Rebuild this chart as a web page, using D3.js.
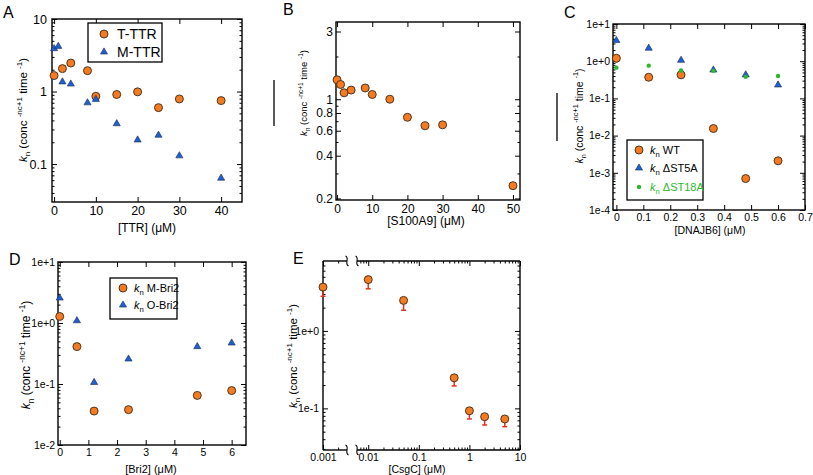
<!DOCTYPE html>
<html><head><meta charset="utf-8">
<script src="https://cdn.jsdelivr.net/npm/d3@7"></script>
<style>body{margin:0;background:#fff}svg{display:block}text{font-family:"Liberation Sans",Arial,sans-serif}</style>
</head><body><svg id="c" width="813" height="475"></svg>
<script>
// ---------- DATA ----------
// Panel A
const aTTTRx=[0,2,4,8,10,15,20,25,30,40];
const aTTTRy=[1.66,2.07,2.47,1.94,0.86,0.91,0.99,0.60,0.79,0.75];
const aMTTRx=[0,1,2,4,8,10,15,20,25,30,40];
const aMTTRy=[3.9,4.2,1.36,1.27,0.70,0.78,0.36,0.215,0.25,0.13,0.064];
const aXTicks=[0,10,20,30,40];
const aXLabels=["0","10","20","30","40"];
const aYTicks=[0.1,1,10];
const aYLabels=["0.1","1","10"];
// Panel B
const bX=[0,1,2,4,8,10,15,20,25,30,50];
const bY=[1.37,1.27,1.11,1.16,1.20,1.08,1.0,0.746,0.65,0.66,0.246];
const bXTicks=[0,10,20,30,40,50];
const bXLabels=["0","10","20","30","40","50"];
const bYTicks=[0.2,0.4,0.6,0.8,1,3];
const bYLabels=["0.2","0.4","0.6","0.8","1","3"];
// Panel C
const cX=[0,0.12,0.24,0.36,0.48,0.6];
const cWT=[1.2,0.37,0.43,0.0155,0.0007,0.0021];
const cST5A=[3.6,2.24,1.06,0.58,0.43,0.23];
const cST18A=[0.67,0.76,0.56,0.55,0.38,0.40];
const cXTicks=[0,0.1,0.2,0.3,0.4,0.5,0.6,0.7];
const cXLabels=["0","0.1","0.2","0.3","0.4","0.5","0.6","0.7"];
const cYTicks=[1e-4,1e-3,1e-2,1e-1,1e0,1e1];
const cYLabels=["1e-4","1e-3","1e-2","1e-1","1e+0","1e+1"];
// Panel D
const dX=[0,0.6,1.2,2.4,4.8,6];
const dMBri2=[1.28,0.41,0.036,0.038,0.065,0.078];
const dOBri2=[2.57,1.09,0.106,0.257,0.41,0.47];
const dXTicks=[0,1,2,3,4,5,6];
const dXLabels=["0","1","2","3","4","5","6"];
const dYTicks=[1e-2,1e-1,1e0,1e1];
const dYLabels=["1e-2","1e-1","1e+0","1e+1"];
// Panel E
const eX=[0.001,0.01,0.05,0.5,1,2,5];
const eY=[3.68,4.6,2.48,0.248,0.093,0.078,0.073];
const eLow=[2.8,3.5,1.85,0.195,0.073,0.061,0.058];
const eXTicks=[0.001,0.01,0.1,1,10];
const eXLabels=["0.001","0.01","0.1","1","10"];
const eYTicks=[0.1,1];
const eYLabels=["1e-1","1e+0"];

// ---------- STYLE ----------
const ORANGE="#f47b20", BLUE="#1f5fd6", GREEN="#2db82d", RED="#e2331f";
const TRI=22;
const svg=d3.select("#c");

function logMinors(dom, exclude){
  const out=[];const a=Math.min(...dom),b=Math.max(...dom);
  for(let e=Math.floor(Math.log10(a));e<=Math.ceil(Math.log10(b));e++)
    for(let k=2;k<=9;k++){const v=+(k*Math.pow(10,e)).toPrecision(6);
      if(v>a*1.0001&&v<b*0.9999&&!(exclude||[]).some(t=>Math.abs(t-v)/v<1e-6))out.push(v);}
  return out;
}
function ax(g,gen,tr,vals,size,fmt,pad,fs){
  const a=g.append("g").attr("transform",tr)
    .call(gen.tickValues(vals).tickSize(size).tickPadding(pad).tickFormat(fmt));
  a.select(".domain").remove();
  a.attr("font-family",null).attr("font-size",fs);
  a.selectAll("line").attr("stroke","#000").attr("stroke-width",1);
  a.selectAll("text").attr("fill","#000");
  return a;
}
function box(g,x,y,o){
  const [x0,x1]=x.range(), y1=y.range()[0], y0=y.range()[1];
  ax(g,d3.axisBottom(x),`translate(0,${y1})`,o.xt,-5,(d,i)=>o.xl[i],o.xpad,o.fs);
  ax(g,d3.axisTop(x),`translate(0,${y0})`,o.xt,-5,()=>"",0,o.fs);
  ax(g,d3.axisLeft(y),`translate(${x0},0)`,o.yt,-5,(d,i)=>o.yl[i],o.ypad,o.fs);
  ax(g,d3.axisRight(y),`translate(${x1},0)`,o.yt,-5,()=>"",0,o.fs);
  if(o.ym){
    ax(g,d3.axisLeft(y),`translate(${x0},0)`,o.ym,-2.5,()=>"",0,o.fs);
    ax(g,d3.axisRight(y),`translate(${x1},0)`,o.ym,-2.5,()=>"",0,o.fs);
  }
  g.append("rect").attr("x",x0).attr("y",y0).attr("width",x1-x0).attr("height",y1-y0)
    .attr("fill","none").attr("stroke","#000").attr("stroke-width",1.4);
}
function ylab(g,x,yc,fs){
  const t=g.append("text").attr("transform",`translate(${x},${yc}) rotate(-90)`)
    .attr("text-anchor","middle").attr("font-size",fs).attr("fill","#000");
  t.append("tspan").attr("font-style","italic").text("k");
  t.append("tspan").attr("font-size",fs*0.7).attr("dy",fs*0.3).text("n");
  t.append("tspan").attr("dy",-fs*0.3).text(" (conc ");
  t.append("tspan").attr("font-size",fs*0.7).attr("dy",-fs*0.45).text("-nc+1");
  t.append("tspan").attr("dy",fs*0.45).text(" time ");
  t.append("tspan").attr("font-size",fs*0.7).attr("dy",-fs*0.45).text("-1");
  t.append("tspan").attr("dy",fs*0.45).text(")");
}
function xlab(g,x,y,fs,s){g.append("text").attr("x",x).attr("y",y).attr("text-anchor","middle").attr("font-size",fs).text(s);}
function title(s,x,y){svg.append("text").attr("x",x).attr("y",y).attr("font-size",16).text(s);}
function circles(g,xs,ys,x,y,r){
  g.selectAll(null).data(xs).enter().append("circle")
    .attr("cx",(d)=>x(d)).attr("cy",(d,i)=>y(ys[i])).attr("r",r||4)
    .attr("fill",ORANGE).attr("stroke","#3b2a1c").attr("stroke-width",0.9);
}
function tris(g,xs,ys,x,y){
  g.selectAll(null).data(xs).enter().append("path")
    .attr("d",d3.symbol(d3.symbolTriangle,TRI)())
    .attr("transform",(d,i)=>`translate(${x(d)},${y(ys[i])})`)
    .attr("fill",BLUE).attr("stroke","#1a2a4a").attr("stroke-width",0.6);
}
function dots(g,xs,ys,x,y){
  g.selectAll(null).data(xs).enter().append("circle")
    .attr("cx",(d)=>x(d)).attr("cy",(d,i)=>y(ys[i])).attr("r",2.2).attr("fill",GREEN);
}
function legBox(g,x0,y0,x1,y1){g.append("rect").attr("x",x0).attr("y",y0).attr("width",x1-x0).attr("height",y1-y0).attr("fill","#fff").attr("stroke","#000").attr("stroke-width",1.3);}
function legMarker(g,type,x,y){
  if(type==="c")g.append("circle").attr("cx",x).attr("cy",y).attr("r",4).attr("fill",ORANGE).attr("stroke","#3b2a1c").attr("stroke-width",0.9);
  else if(type==="t")g.append("path").attr("d",d3.symbol(d3.symbolTriangle,TRI)()).attr("transform",`translate(${x},${y})`).attr("fill",BLUE).attr("stroke","#1a2a4a").attr("stroke-width",0.6);
  else g.append("circle").attr("cx",x).attr("cy",y).attr("r",2.2).attr("fill",GREEN);
}
function legKn(g,x,y,fs,s,col){
  const t=g.append("text").attr("x",x).attr("y",y).attr("font-size",fs).attr("fill",col||"#000");
  t.append("tspan").attr("font-style","italic").text("k");
  t.append("tspan").attr("font-size",fs*0.7).attr("dy",fs*0.3).text("n");
  t.append("tspan").attr("dy",-fs*0.3).text(" "+s);
}

// ---------- PANEL A ----------
{
  const g=svg.append("g");
  const x=d3.scaleLinear().domain([-0.5,45]).range([52,242]);
  const y=d3.scaleLog().domain([0.03,10]).range([202,19]);
  box(g,x,y,{xt:aXTicks,xl:aXLabels,yt:aYTicks,yl:aYLabels,ym:logMinors(y.domain(),aYTicks),fs:12.5,xpad:4,ypad:5});
  ylab(g,27,110,11.5);
  xlab(g,147,232,12,"[TTR] (μM)");
  circles(g,aTTTRx,aTTTRy,x,y);
  tris(g,aMTTRx,aMTTRy,x,y);
  legBox(g,88,23,162,62);
  legMarker(g,"c",104,34); g.append("text").attr("x",117).attr("y",39).attr("font-size",14).text("T-TTR");
  legMarker(g,"t",104,52); g.append("text").attr("x",117).attr("y",57).attr("font-size",14).text("M-TTR");
}
// ---------- PANEL B ----------
{
  const g=svg.append("g");
  const x=d3.scaleLinear().domain([-0.3,52]).range([336,520]);
  const y=d3.scaleLog().domain([0.195,3.5]).range([200,22]);
  box(g,x,y,{xt:bXTicks,xl:bXLabels,yt:bYTicks,yl:bYLabels,ym:logMinors(y.domain(),bYTicks),fs:12,xpad:4,ypad:3});
  ylab(g,307,93,9.5);
  xlab(g,426,225,12,"[S100A9] (μM)");
  circles(g,bX,bY,x,y);
  g.append("line").attr("x1",274).attr("x2",274).attr("y1",80).attr("y2",126).attr("stroke","#222").attr("stroke-width",1.5);
}
// ---------- PANEL C ----------
{
  const g=svg.append("g");
  const x=d3.scaleLinear().domain([-0.0125,0.7]).range([613,805]);
  const y=d3.scaleLog().domain([1e-4,1e1]).range([210,24]);
  box(g,x,y,{xt:cXTicks,xl:cXLabels,yt:cYTicks,yl:cYLabels,ym:logMinors(y.domain(),cYTicks),fs:10.5,xpad:4,ypad:3});
  ylab(g,583,116,10.5);
  xlab(g,710,234,10.5,"[DNAJB6] (μM)");
  circles(g,cX,cWT,x,y);
  tris(g,cX,cST5A,x,y);
  dots(g,cX,cST18A,x,y);
  g.append("line").attr("x1",557).attr("x2",557).attr("y1",93).attr("y2",141).attr("stroke","#222").attr("stroke-width",1.5);
  legBox(g,627,140,703,200);
  legMarker(g,"c",639,150); legKn(g,650,154,11,"WT");
  legMarker(g,"t",639,168); legKn(g,650,172,11,"ΔST5A");
  legMarker(g,"d",639,187); legKn(g,650,191,11,"ΔST18A",GREEN);
}
// ---------- PANEL D ----------
{
  const g=svg.append("g");
  const x=d3.scaleLinear().domain([-0.06,6.5]).range([58,246]);
  const y=d3.scaleLog().domain([1e-2,1e1]).range([445,262]);
  box(g,x,y,{xt:dXTicks,xl:dXLabels,yt:dYTicks,yl:dYLabels,ym:logMinors(y.domain(),dYTicks),fs:10.5,xpad:4,ypad:3});
  ylab(g,30,355,12);
  xlab(g,151,473,11,"[Bri2] (μM)");
  circles(g,dX,dMBri2,x,y);
  tris(g,dX,dOBri2,x,y);
  legBox(g,110,278,177,319);
  legMarker(g,"c",123,288); legKn(g,134,292,11,"M-Bri2");
  legMarker(g,"t",123,305); legKn(g,134,309,11,"O-Bri2");
}
// ---------- PANEL E ----------
{
  const g=svg.append("g");
  const xL=d3.scaleLog().domain([0.001,0.003]).range([323,347]);
  const xR=d3.scaleLog().domain([0.006,10]).range([357,520]);
  const y=d3.scaleLog().domain([0.029,8]).range([450,261]);
  const xs=v=>v<0.004?xL(v):xR(v);
  const y0=261,y1=450,fs=10.5;
  const xtL=eXTicks.filter(v=>v<0.004), xtR=eXTicks.filter(v=>v>=0.004);
  const lab=v=>eXLabels[eXTicks.indexOf(v)];
  ax(g,d3.axisBottom(xL),`translate(0,${y1})`,xtL,-5,lab,4,fs);
  ax(g,d3.axisBottom(xR),`translate(0,${y1})`,xtR,-5,lab,4,fs);
  ax(g,d3.axisTop(xL),`translate(0,${y0})`,xtL,-5,()=>"",0,fs);
  ax(g,d3.axisTop(xR),`translate(0,${y0})`,xtR,-5,()=>"",0,fs);
  const mL=logMinors(xL.domain(),eXTicks), mR=logMinors(xR.domain(),eXTicks);
  [[xL,mL],[xR,mR]].forEach(([s,m])=>{
    ax(g,d3.axisBottom(s),`translate(0,${y1})`,m,-2.5,()=>"",0,fs);
    ax(g,d3.axisTop(s),`translate(0,${y0})`,m,-2.5,()=>"",0,fs);
  });
  ax(g,d3.axisLeft(y),`translate(323,0)`,eYTicks,-5,(d,i)=>eYLabels[i],4,fs);
  ax(g,d3.axisRight(y),`translate(520,0)`,eYTicks,-5,()=>"",0,fs);
  const ym=logMinors(y.domain(),eYTicks);
  ax(g,d3.axisLeft(y),`translate(323,0)`,ym,-2.5,()=>"",0,fs);
  ax(g,d3.axisRight(y),`translate(520,0)`,ym,-2.5,()=>"",0,fs);
  const fr=g.append("g").attr("stroke","#000").attr("stroke-width",1.4).attr("fill","none");
  [y0,y1].forEach(yy=>{
    fr.append("line").attr("x1",323).attr("x2",xL.range()[1]).attr("y1",yy).attr("y2",yy);
    fr.append("line").attr("x1",xR.range()[0]).attr("x2",520).attr("y1",yy).attr("y2",yy);
    [xL.range()[1],xR.range()[0]].forEach(bx=>{
      fr.append("path").attr("stroke-width",1.1)
        .attr("d",`M${bx-1.5},${yy-5} C${bx+3},${yy-3} ${bx-3},${yy+3} ${bx+1.5},${yy+5}`);
    });
  });
  fr.append("line").attr("x1",323).attr("x2",323).attr("y1",y0).attr("y2",y1);
  fr.append("line").attr("x1",520).attr("x2",520).attr("y1",y0).attr("y2",y1);
  ylab(g,297,356,11.5);
  xlab(g,417,473,fs,"[CsgC] (μM)");
  // error bars
  const eb=g.append("g").attr("stroke",RED).attr("stroke-width",1.5);
  eX.forEach((v,i)=>{
    eb.append("line").attr("x1",xs(v)).attr("x2",xs(v)).attr("y1",y(eY[i])).attr("y2",y(eLow[i]));
    eb.append("line").attr("x1",xs(v)-2.5).attr("x2",xs(v)+2.5).attr("y1",y(eLow[i])).attr("y2",y(eLow[i]));
  });
  g.selectAll(null).data(eX).enter().append("circle")
    .attr("cx",d=>xs(d)).attr("cy",(d,i)=>y(eY[i])).attr("r",4)
    .attr("fill",ORANGE).attr("stroke","#3b2a1c").attr("stroke-width",0.9);
}
// ---------- TITLES ----------
title("A",3,18); title("B",283,15); title("C",564,18); title("D",9,265); title("E",293,264);
</script></body></html>
